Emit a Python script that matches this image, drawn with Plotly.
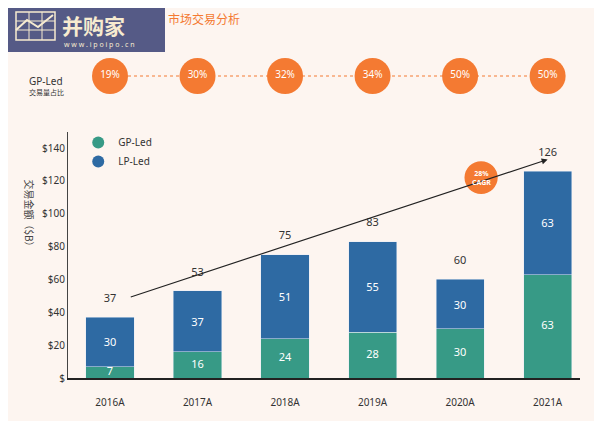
import plotly.graph_objects as go

years = ['2016A', '2017A', '2018A', '2019A', '2020A', '2021A']
gp_led = [7, 16, 24, 28, 30, 63]
lp_led = [30, 37, 51, 55, 30, 63]
totals = [37, 53, 75, 83, 60, 126]
gp_share = ['19%', '30%', '32%', '34%', '50%', '50%']
y_ticks = [0, 20, 40, 60, 80, 100, 120, 140]
y_tick_text = ['$', '$20', '$40', '$60', '$80', '$100', '$120', '$140']

teal = '#379A86'
blue = '#2E6AA3'
orange = '#F47A32'
bg = '#FDF5F0'
cream = '#F7EBD0'
xs = list(range(len(years)))

# the page shows the figure 8px in from the top-left, so sizes are 8px smaller
W, H = 594, 413
L, B = 60, 43
px = lambda v: (v - 8 - L) / 512
py = lambda v: min(1.0, (H - B - (v - 8)) / (H - B))

fig = go.Figure()
fig.add_trace(go.Bar(x=xs, y=gp_led, marker_color=teal, width=0.55, showlegend=False))
fig.add_trace(go.Bar(x=xs, y=lp_led, marker_color=blue, width=0.55, showlegend=False,
                     text=lp_led, textposition='inside', insidetextanchor='middle', constraintext='none',
                     textfont=dict(color='white', size=11)))
# GP labels (kept full size even on the small bar)
fig.add_trace(go.Scatter(x=xs, y=[g / 2 for g in gp_led], mode='text', text=gp_led,
                         textfont=dict(size=11, color='white'), showlegend=False))
# totals above bars
fig.add_trace(go.Scatter(x=xs, y=[t + 11 for t in totals], mode='text', text=totals,
                         textfont=dict(size=11, color='#333'), showlegend=False))
# legend markers
fig.add_trace(go.Scatter(x=[None], y=[None], mode='markers', name='GP-Led',
                         marker=dict(color=teal, size=9)))
fig.add_trace(go.Scatter(x=[None], y=[None], mode='markers', name='LP-Led',
                         marker=dict(color=blue, size=9)))
# share circles row
fig.add_trace(go.Scatter(x=xs, y=[0.5] * 6, mode='lines+markers+text', text=gp_share,
                         line=dict(color=orange, width=1.2, dash='dot'),
                         marker=dict(size=36, color=orange),
                         textfont=dict(color='white', size=10), textposition='middle center',
                         yaxis='y2', showlegend=False))

fig.add_annotation(x=5.0, y=133, ax=0.22, ay=49, xref='x', yref='y', axref='x', ayref='y',
                   showarrow=True, arrowhead=2, arrowsize=1, arrowwidth=1.2, arrowcolor='#222', text='')
fig.add_shape(type='circle', xref='x', yref='y', x0=4.05, x1=4.43, y0=112, y1=132,
              fillcolor=orange, line_width=0)
fig.add_annotation(x=4.24, y=122, text='<b>28%<br>CAGR</b>', showarrow=False,
                   font=dict(color='white', size=7))

# watermark box with a little chart icon
fig.add_shape(type='rect', xref='paper', yref='paper', x0=px(8), x1=px(165), y0=py(52), y1=py(0),
              fillcolor='#555A86', line_width=0)
fig.add_shape(type='rect', xref='paper', yref='paper', x0=px(16), x1=px(55), y0=py(40), y1=py(12),
              line=dict(color=cream, width=1.5))
for gx in [29, 42]:
    fig.add_shape(type='line', xref='paper', yref='paper', x0=px(gx), x1=px(gx), y0=py(40), y1=py(12),
                  line=dict(color=cream, width=1))
for gy in [21, 30]:
    fig.add_shape(type='line', xref='paper', yref='paper', x0=px(16), x1=px(55), y0=py(gy), y1=py(gy),
                  line=dict(color=cream, width=1))
fig.add_shape(type='path', xref='paper', yref='paper',
              path=f'M {px(16)},{py(30)} L {px(27)},{py(20)} L {px(38)},{py(27)} L {px(53)},{py(15)}',
              line=dict(color=cream, width=2))
fig.add_annotation(xref='paper', yref='paper', x=px(60), y=py(8), text='<b>并购家</b>', showarrow=False,
                   font=dict(size=21, color=cream, family='Noto Sans CJK SC'), xanchor='left', yanchor='top')
fig.add_annotation(xref='paper', yref='paper', x=px(62), y=py(51), text='w w w . i p o i p o . c n',
                   showarrow=False, font=dict(size=7, color=cream), xanchor='left', yanchor='bottom')
fig.add_annotation(xref='paper', yref='paper', x=px(166), y=py(8), text='市场交易分析', showarrow=False,
                   font=dict(size=12, color=orange, family='Noto Sans CJK SC'), xanchor='left', yanchor='top')
fig.add_annotation(xref='paper', yref='paper', x=px(27), y=py(72), text='GP-Led', showarrow=False,
                   font=dict(size=10, color='#333'), xanchor='left')
fig.add_annotation(xref='paper', yref='paper', x=px(27), y=py(85), text='交易量占比', showarrow=False,
                   font=dict(size=7, color='#333', family='Noto Sans CJK SC'), xanchor='left')
fig.add_annotation(xref='paper', yref='paper', x=px(20), y=py(215), text='交易金额（$B）', showarrow=False,
                   textangle=90, font=dict(size=10, color='#444', family='Noto Sans CJK SC'))

fig.update_layout(
    width=W, height=H, barmode='stack', paper_bgcolor=bg, plot_bgcolor=bg,
    margin=dict(l=L, r=22, t=0, b=B, autoexpand=False),
    font=dict(family='Noto Sans', color='#333'),
    xaxis=dict(range=[-0.48, 5.37], tickvals=xs, ticktext=years, showgrid=False, zeroline=False,
               showline=True, linecolor='#222', linewidth=1.5, ticks='', tickfont=dict(size=10),
               ticklabelstandoff=14, automargin=False),
    yaxis=dict(domain=[0, 230 / (H - B) * 150 / 140], range=[0, 150], tickvals=y_ticks, ticktext=y_tick_text,
               showgrid=False, zeroline=False, showline=True, linecolor='#444', linewidth=1,
               tickfont=dict(size=10), automargin=False),
    yaxis2=dict(domain=[py(76) - 0.08, py(76) + 0.08], range=[0, 1], visible=False),
    legend=dict(x=0.02, y=py(128), yanchor='top', bgcolor='rgba(0,0,0,0)', font=dict(size=10),
                itemsizing='constant', tracegroupgap=0, traceorder='normal'),
    showlegend=True,
)
fig.write_html('out.html')
